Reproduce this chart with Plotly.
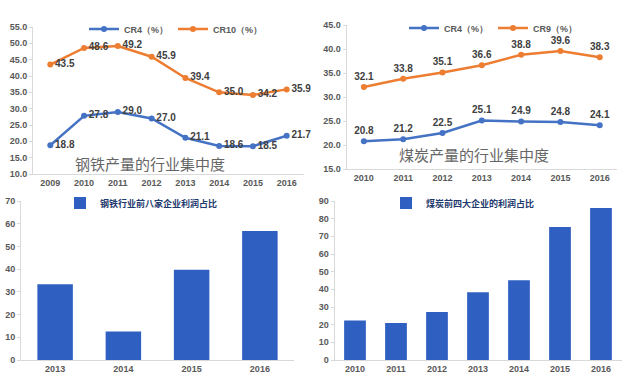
import plotly.graph_objects as go

steel_years = ["2009", "2010", "2011", "2012", "2013", "2014", "2015", "2016"]
steel_cr4 = [18.8, 27.8, 29.0, 27.0, 21.1, 18.6, 18.5, 21.7]
steel_cr10 = [43.5, 48.6, 49.2, 45.9, 39.4, 35.0, 34.2, 35.9]

coal_years = ["2010", "2011", "2012", "2013", "2014", "2015", "2016"]
coal_cr4 = [20.8, 21.2, 22.5, 25.1, 24.9, 24.8, 24.1]
coal_cr9 = [32.1, 33.8, 35.1, 36.6, 38.8, 39.6, 38.3]

steel_profit_years = ["2013", "2014", "2015", "2016"]
steel_profit = [33.3, 12.6, 39.7, 56.8]

coal_profit_years = ["2010", "2011", "2012", "2013", "2014", "2015", "2016"]
coal_profit = [22.3, 21.0, 27.2, 38.3, 45.2, 75.3, 86.0]

BLUE = "#4472C4"
ORANGE = "#ED7D31"
BAR = "#2F5FC0"
TICK = dict(family="Liberation Sans, Arial, sans-serif", size=9, color="#595959", weight="bold")
LBL = dict(family="Liberation Sans, Arial, sans-serif", size=10, color="#404040", weight="bold")
CJK = "Noto Sans CJK SC"

W, H = 622, 383


def px(x):
    return x / W


def py(y):
    return (H - y) / H


fig = go.Figure()

# top-left steel lines
fig.add_trace(go.Scatter(x=steel_years, y=steel_cr4, name="CR4（%）", mode="lines+markers+text",
                         line=dict(color=BLUE, width=2.5), marker=dict(size=6, color=BLUE),
                         text=[f"{v:.1f}" for v in steel_cr4], textposition="middle right",
                         textfont=LBL, xaxis="x", yaxis="y", legend="legend", cliponaxis=False))
fig.add_trace(go.Scatter(x=steel_years, y=steel_cr10, name="CR10（%）", mode="lines+markers+text",
                         line=dict(color=ORANGE, width=2.5), marker=dict(size=6, color=ORANGE),
                         text=[f"{v:.1f}" for v in steel_cr10], textposition="middle right",
                         textfont=LBL, xaxis="x", yaxis="y", legend="legend", cliponaxis=False))

# top-right coal lines
fig.add_trace(go.Scatter(x=coal_years, y=coal_cr4, name="CR4（%）", mode="lines+markers+text",
                         line=dict(color=BLUE, width=2.5), marker=dict(size=6, color=BLUE),
                         text=[f"{v:.1f}" for v in coal_cr4], textposition="top center",
                         textfont=LBL, xaxis="x2", yaxis="y2", legend="legend2", cliponaxis=False))
fig.add_trace(go.Scatter(x=coal_years, y=coal_cr9, name="CR9（%）", mode="lines+markers+text",
                         line=dict(color=ORANGE, width=2.5), marker=dict(size=6, color=ORANGE),
                         text=[f"{v:.1f}" for v in coal_cr9], textposition="top center",
                         textfont=LBL, xaxis="x2", yaxis="y2", legend="legend2", cliponaxis=False))

# bottom bars
fig.add_trace(go.Bar(x=steel_profit_years, y=steel_profit, name="钢铁行业前八家企业利润占比",
                     marker=dict(color=BAR, line=dict(width=0)), width=0.52,
                     xaxis="x3", yaxis="y3", legend="legend3"))
fig.add_trace(go.Bar(x=coal_profit_years, y=coal_profit, name="煤炭前四大企业的利润占比",
                     marker=dict(color=BAR, line=dict(width=0)), width=0.53,
                     xaxis="x4", yaxis="y4", legend="legend4"))

axis_common = dict(showgrid=False, zeroline=False, showline=True, linecolor="#D9D9D9", linewidth=1,
                   tickfont=TICK, fixedrange=True, automargin=False)
yax = dict(ticks="outside", ticklen=3, tickcolor="#D9D9D9", **axis_common)

fig.update_layout(
    width=W, height=H, margin=dict(l=0, r=0, t=0, b=0),
    paper_bgcolor="white", plot_bgcolor="white",
    showlegend=True,
    xaxis=dict(domain=[px(33), px(304)], anchor="y", type="category", ticks="", **axis_common),
    yaxis=dict(domain=[py(174), py(27)], anchor="x", range=[10, 55], dtick=5, tickformat=".1f", **yax),
    xaxis2=dict(domain=[px(346.6), px(617)], anchor="y2", type="category", ticks="", **axis_common),
    yaxis2=dict(domain=[py(169), py(25)], anchor="x2", range=[15, 45], dtick=5, tickformat=".1f", **yax),
    xaxis3=dict(domain=[px(21), px(294)], anchor="y3", type="category", ticks="", **axis_common),
    yaxis3=dict(domain=[py(360), py(201)], anchor="x3", range=[0, 70], dtick=10, **yax),
    xaxis4=dict(domain=[px(334.5), px(621.5)], anchor="y4", type="category", ticks="", **axis_common),
    yaxis4=dict(domain=[py(360), py(201)], anchor="x4", range=[0, 90], dtick=10, **yax),
    legend=dict(orientation="h", x=px(84), y=py(29), xanchor="left", yanchor="middle",
                font=dict(family="Liberation Sans, Arial, sans-serif", size=9, color="#595959", weight="bold"),
                bgcolor="rgba(0,0,0,0)", itemwidth=30),
    legend2=dict(orientation="h", x=px(404), y=py(28), xanchor="left", yanchor="middle",
                 font=dict(family="Liberation Sans, Arial, sans-serif", size=9, color="#595959", weight="bold"),
                 bgcolor="rgba(0,0,0,0)", itemwidth=30),
    legend3=dict(orientation="h", x=px(60), y=py(203), xanchor="left", yanchor="middle",
                 font=dict(family=CJK, size=9, color="#1F3A6E", weight="bold"),
                 bgcolor="rgba(0,0,0,0)", itemwidth=30),
    legend4=dict(orientation="h", x=px(386), y=py(203), xanchor="left", yanchor="middle",
                 font=dict(family=CJK, size=9, color="#1F3A6E", weight="bold"),
                 bgcolor="rgba(0,0,0,0)", itemwidth=30),
    annotations=[
        dict(text="钢铁产量的行业集中度", x=px(150), y=py(163), xref="paper", yref="paper",
             xanchor="center", yanchor="middle",
             showarrow=False, font=dict(family=CJK, size=15, color="#666666")),
        dict(text="煤炭产量的行业集中度", x=px(474), y=py(154), xref="paper", yref="paper",
             xanchor="center", yanchor="middle",
             showarrow=False, font=dict(family=CJK, size=15, color="#666666")),
    ],
)

fig.write_html("out.html", config={"displayModeBar": False},
               post_script="document.body.style.margin='0';document.body.style.padding='0';")
